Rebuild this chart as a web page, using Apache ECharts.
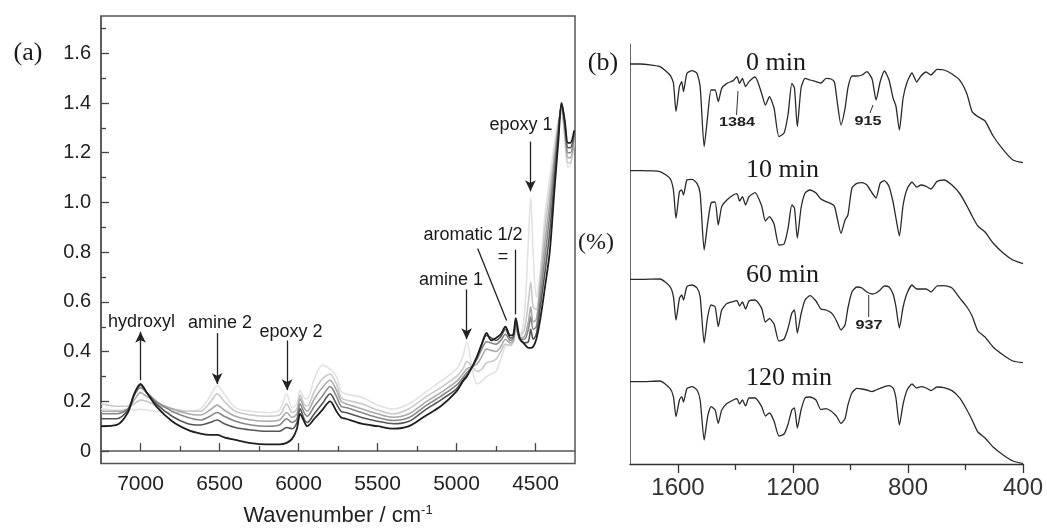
<!DOCTYPE html>
<html>
<head>
<meta charset="utf-8">
<script src="https://cdn.jsdelivr.net/npm/echarts@6/dist/echarts.min.js"></script>
<style>
  html, body { margin: 0; padding: 0; background: #fff; }
  #main { width: 1047px; height: 532px; }
</style>
</head>
<body>
<div id="main"></div>
<script>
// ---- panel (a): NIR spectra, wavenumber grid ----
var wnA = [7250,7150,7080,7040,7000,6960,6900,6800,6700,6620,6560,6515,6470,6400,6300,6200,6120,6075,6040,6010,
  5990,5965,5945,5900,5850,5800,5760,5730,5700,5600,5500,5400,5300,5200,5100,5000,4960,4935,4900,4870,
  4840,4810,4780,4750,4720,4690,4660,4640,4625,4600,4570,4545,4530,4515,4495,4470,4440,4410,4380,4355,
  4335,4315,4295,4280,4255];

// lightest (start of cure) -> darkest (end of cure)
var absA0 = [0.17,0.165,0.165,0.165,0.168,0.165,0.16,0.155,0.16,0.17,0.22,0.265,0.23,0.175,0.16,0.155,0.165,0.23,0.175,0.19,
  0.245,0.215,0.21,0.29,0.345,0.33,0.30,0.24,0.23,0.216,0.185,0.169,0.19,0.235,0.28,0.33,0.38,0.44,0.33,0.27,
  0.28,0.30,0.31,0.32,0.37,0.42,0.43,0.44,0.47,0.47,0.55,0.85,1.02,0.80,0.62,0.72,0.95,1.10,1.24,1.33,
  1.36,1.26,1.14,1.15,1.24];
var absA1 = [0.19,0.18,0.18,0.19,0.205,0.2,0.185,0.17,0.16,0.16,0.195,0.23,0.20,0.16,0.145,0.14,0.145,0.19,0.155,0.17,
  0.225,0.19,0.18,0.24,0.29,0.31,0.27,0.215,0.205,0.19,0.165,0.149,0.17,0.215,0.255,0.30,0.33,0.36,0.34,0.32,
  0.33,0.355,0.36,0.37,0.40,0.43,0.425,0.44,0.49,0.46,0.49,0.6,0.68,0.58,0.57,0.70,0.90,1.05,1.2,1.32,
  1.37,1.27,1.16,1.16,1.25];
var absA2 = [0.16,0.16,0.17,0.205,0.235,0.22,0.195,0.17,0.15,0.145,0.165,0.185,0.165,0.14,0.125,0.12,0.125,0.155,0.135,0.15,
  0.21,0.175,0.16,0.21,0.255,0.285,0.245,0.2,0.19,0.17,0.15,0.136,0.15,0.195,0.235,0.28,0.31,0.33,0.34,0.35,
  0.38,0.41,0.405,0.40,0.42,0.45,0.435,0.445,0.505,0.455,0.46,0.52,0.58,0.52,0.53,0.66,0.84,1.0,1.18,1.31,
  1.38,1.29,1.18,1.18,1.26];
var absA3 = [0.15,0.15,0.17,0.225,0.255,0.235,0.2,0.16,0.135,0.125,0.14,0.155,0.14,0.12,0.105,0.10,0.105,0.13,0.115,0.13,
  0.19,0.155,0.14,0.18,0.22,0.26,0.22,0.18,0.175,0.155,0.135,0.123,0.135,0.18,0.22,0.265,0.295,0.315,0.34,0.37,
  0.41,0.44,0.435,0.43,0.445,0.47,0.445,0.455,0.52,0.45,0.45,0.49,0.54,0.49,0.50,0.62,0.78,0.95,1.15,1.30,
  1.39,1.31,1.2,1.2,1.27];
var absA4 = [0.13,0.13,0.165,0.225,0.265,0.235,0.19,0.14,0.11,0.105,0.115,0.125,0.11,0.095,0.085,0.08,0.08,0.095,0.09,0.115,
  0.17,0.13,0.115,0.15,0.19,0.23,0.19,0.16,0.155,0.135,0.12,0.11,0.12,0.165,0.205,0.25,0.285,0.305,0.34,0.38,
  0.43,0.465,0.455,0.445,0.46,0.49,0.455,0.46,0.525,0.45,0.435,0.44,0.49,0.45,0.47,0.58,0.72,0.88,1.10,1.28,
  1.40,1.32,1.22,1.22,1.28];
var absA5 = [0.10,0.105,0.155,0.23,0.27,0.235,0.18,0.12,0.085,0.07,0.065,0.065,0.055,0.045,0.032,0.027,0.027,0.033,0.05,0.09,
  0.15,0.12,0.10,0.13,0.165,0.20,0.16,0.135,0.13,0.11,0.10,0.09,0.10,0.14,0.18,0.24,0.28,0.30,0.34,0.38,
  0.43,0.475,0.445,0.455,0.47,0.50,0.465,0.47,0.535,0.455,0.43,0.415,0.415,0.42,0.45,0.53,0.66,0.80,1.05,1.25,
  1.40,1.33,1.24,1.24,1.29];

var xTicksA = [4500,5000,5500,6000,6500,7000];
var xMinorA = [4750,5250,5750,6250,6750];
var yTicksA = [0,0.2,0.4,0.6,0.8,1.0,1.2,1.4,1.6];
var yMinorA = [0.1,0.3,0.5,0.7,0.9,1.1,1.3,1.5,1.7];

// ---- panel (b): mid-IR spectra (stacked, arbitrary %T units) ----
var wnB = [1767,1732,1663,1628,1616,1607,1595,1587,1581,1569,1551,1534,1523,1509,1497,1485,1471,1460,1448,1430,1408,
  1395,1386,1376,1365,1353,1332,1309,1296,1282,1266,1249,1231,1217,1204,1195,1185,1172,1158,1141,1120,
  1103,1085,1068,1056,1047,1033,1019,1009,995,978,960,943,925,911,897,882,866,852,842,830,
  817,803,786,770,755,737,720,699,675,647,619,595,577,557,532,504,469,435,400];
var t0min = [200,200,198.7,194.5,190.5,176.2,188.7,191.2,186.2,195.3,196.7,
  195.3,188.7,158.7,173.7,187,187,181.2,187.8,190.3,191.7,
  193.7,190.3,192.8,188.7,191.2,193.5,185.3,179.5,183.7,178,
  163.7,165.5,175,190.3,188,168.7,188,192.8,192,191.2,
  190.5,192.8,192.5,191,182,169.5,177.8,188,194,194,
  194.5,196.2,192.5,182,191,196.5,192,183,179,167,
  183,191,195.5,191,194,196,194.5,197.3,197,195,
  191.7,185,176.2,173.7,171.5,164,157.2,152,150.7];
var t10min = [146.7,146.7,146.2,142.8,137,122.8,136.2,137,134.5,142,142.3,
  140.3,135.3,107,120.3,130.5,131,119.5,128.7,132,134.5,
  135.2,131.5,133.7,129.5,133.7,135.7,129,121.5,123.7,120,
  109.5,110,118,129.5,128,113,128,135.5,137,135.5,
  132.5,131.2,130.2,129,123.5,115.3,122,124.5,138,140.3,
  140.7,139.5,135.5,133,140.3,141.7,138.8,131,123,114,
  129.5,137.5,141,138.5,139.5,138.8,137.5,141.3,142,139.5,
  135,129,124,119,116,110.5,105.5,102,100.2];
var t60min = [92.3,92.3,92.5,88.7,83.7,72,82.8,84.5,82,88.7,89.5,
  88,83.7,60.5,73.5,79.5,78.7,68.7,77,80.2,81.2,
  81.7,79,81,77.5,81.5,82,77.8,71,72.7,70,
  61.5,62.5,68,75.5,77,65.5,75,82,84.2,81.5,
  77.5,77,75.7,73.5,71,67,69.5,78,86,88.5,
  88,86,85,85.5,87,89,88.5,85,78.7,68,
  78.5,85.5,89.5,87.5,87.5,87.5,86,89,89.2,88,
  82.8,78.5,74,66.5,63.5,58.5,54.5,51.5,50.7];
var t120min = [41.2,41.2,41.5,37.8,33.7,23.7,32,33.7,31,37.7,38.7,
  37,32,12,23.7,28.7,27,20.3,27,30.2,32,
  32.7,30,32,29,33,33,28.7,24,25.5,21.5,
  14,15,20,27,28,18,27,33,33.5,32,
  27.2,27.7,26.5,25,23.5,20.3,22.8,29.5,35.5,37.8,
  37.5,37,36.2,37,37.8,38.7,39.2,38,33,19.5,
  30,37,40,38,38.7,38,36.7,38.5,38.2,36.7,
  32.8,27,22,16,13,8.5,4.5,1.5,0.2];

var xTicksB = [400,800,1200,1600];
var xMinorB = [600,1000,1400];

function pairs(xs, ys) {
  return xs.map(function (x, i) { return [x, ys[i]]; });
}

var greysA = ['#e2e2e2', '#c9c9c9', '#aaaaaa', '#878787', '#555555', '#1e1e1e'];
var setsA = [absA0, absA1, absA2, absA3, absA4, absA5];

var sans = 'Liberation Sans, Arial, sans-serif';
var serif = 'Liberation Serif, Times New Roman, serif';

var seriesList = [];
setsA.forEach(function (vals, k) {
  seriesList.push({
    type: 'line',
    xAxisIndex: 0,
    yAxisIndex: 0,
    data: pairs(wnA, vals),
    showSymbol: false,
    smooth: 0.3,
    silent: true,
    lineStyle: { color: greysA[k], width: k === 5 ? 1.8 : 1.6 },
    z: 2 + k
  });
});

// arrows + pointer lines in panel (a), placed in data coordinates
seriesList[5].markLine = {
  silent: true,
  animation: false,
  symbol: ['none', 'arrow'],
  symbolSize: [8, 11],
  label: { show: false },
  lineStyle: { color: '#222', width: 1.3, type: 'solid' },
  data: [
    [{ coord: [7000, 0.285] }, { coord: [7000, 0.48] }],
    [{ coord: [6515, 0.475] }, { coord: [6515, 0.27] }],
    [{ coord: [6072, 0.445] }, { coord: [6072, 0.245] }],
    [{ coord: [4936, 0.65] }, { coord: [4936, 0.45] }],
    [{ coord: [4532, 1.245] }, { coord: [4532, 1.045] }],
    [{ coord: [4866, 0.815], symbol: 'none' }, { coord: [4683, 0.525], symbol: 'none' }],
    [{ coord: [4626, 0.81], symbol: 'none' }, { coord: [4626, 0.55], symbol: 'none' }]
  ]
};

[t0min, t10min, t60min, t120min].forEach(function (vals) {
  seriesList.push({
    type: 'line',
    xAxisIndex: 2,
    yAxisIndex: 2,
    data: pairs(wnB, vals),
    showSymbol: false,
    smooth: 0.2,
    silent: true,
    lineStyle: { color: '#2a2a2a', width: 1.3 }
  });
});

function txt(x, y, s, font, align) {
  return {
    type: 'text', x: x, y: y, silent: true,
    style: { text: s, font: font, fill: '#1a1a1a', textAlign: align || 'center', textVerticalAlign: 'middle' }
  };
}
function peakNum(x, y, s) {
  return {
    type: 'text', x: x, y: y, scaleX: 1.35, silent: true,
    style: { text: s, font: 'bold 12px ' + sans, fill: '#222', textAlign: 'center', textVerticalAlign: 'middle' }
  };
}
function tick(x1, y1, x2, y2) {
  return { type: 'line', silent: true, shape: { x1: x1, y1: y1, x2: x2, y2: y2 }, style: { stroke: '#333', lineWidth: 1 } };
}
function plain(v) { return String(v); }

var option = {
  animation: false,
  backgroundColor: '#fff',
  grid: [
    { left: 101, top: 16, right: 472, bottom: 65, show: true, borderColor: '#555', borderWidth: 1.5, backgroundColor: 'transparent' },
    { left: 630, top: 44, right: 24, bottom: 68 }
  ],
  xAxis: [
    {
      gridIndex: 0, type: 'value', min: 4250, max: 7250, inverse: true, position: 'bottom',
      axisLine: { lineStyle: { color: '#555', width: 1.5 } },
      axisTick: { inside: true, length: 8, customValues: xTicksA, lineStyle: { color: '#444', width: 1.3 } },
      axisLabel: { customValues: xTicksA, formatter: plain, fontSize: 21, fontFamily: sans, color: '#222', margin: 10 },
      splitLine: { show: false },
      name: '{a|Wavenumber / cm}{s|-1}',
      nameLocation: 'middle',
      nameGap: 40,
      nameTextStyle: {
        rich: {
          a: { fontSize: 22, fontFamily: sans, color: '#222' },
          s: { fontSize: 13, fontFamily: sans, color: '#222', padding: [0, 0, 12, 0] }
        }
      }
    },
    {
      gridIndex: 0, type: 'value', min: 4250, max: 7250, inverse: true, position: 'bottom',
      axisLine: { show: false },
      axisTick: { inside: true, length: 5, customValues: xMinorA, lineStyle: { color: '#444', width: 1.3 } },
      axisLabel: { show: false },
      splitLine: { show: false }
    },
    {
      gridIndex: 1, type: 'value', min: 400, max: 1767, inverse: true, position: 'bottom',
      axisLine: { lineStyle: { color: '#333', width: 1.3 } },
      axisTick: { length: 9, customValues: xTicksB, lineStyle: { color: '#333', width: 1.3 } },
      axisLabel: { customValues: xTicksB, formatter: plain, fontSize: 24, fontFamily: sans, color: '#333', margin: 12 },
      splitLine: { show: false }
    },
    {
      gridIndex: 1, type: 'value', min: 400, max: 1767, inverse: true, position: 'bottom',
      axisLine: { show: false },
      axisTick: { length: 6, customValues: xMinorB, lineStyle: { color: '#333', width: 1.3 } },
      axisLabel: { show: false },
      splitLine: { show: false }
    }
  ],
  yAxis: [
    {
      gridIndex: 0, type: 'value', min: -0.05, max: 1.75, position: 'left',
      axisLine: { show: true, lineStyle: { color: '#555', width: 1.5 } },
      axisTick: { show: true, inside: true, length: 8, customValues: yTicksA, lineStyle: { color: '#444', width: 1.3 } },
      axisLabel: {
        customValues: yTicksA, fontSize: 20, fontFamily: sans, color: '#222', margin: 10,
        formatter: function (v) { return v === 0 ? '0' : v.toFixed(1); }
      },
      splitLine: { show: false }
    },
    {
      gridIndex: 0, type: 'value', min: -0.05, max: 1.75, position: 'left',
      axisLine: { show: false },
      axisTick: { show: true, inside: true, length: 5, customValues: yMinorA, lineStyle: { color: '#444', width: 1.3 } },
      axisLabel: { show: false },
      splitLine: { show: false }
    },
    {
      gridIndex: 1, type: 'value', min: 0, max: 210,
      axisLine: { show: true, lineStyle: { color: '#666', width: 1 } },
      axisTick: { show: false },
      axisLabel: { show: false },
      splitLine: { show: false }
    }
  ],
  series: seriesList,
  graphic: [
    txt(28, 53, '(a)', '26px ' + serif),
    txt(603, 63, '(b)', '26px ' + serif),
    txt(596, 243, '(%)', '24px ' + serif),
    txt(108, 322, 'hydroxyl', '18px ' + sans, 'left'),
    txt(220, 323, 'amine 2', '18px ' + sans),
    txt(291, 332, 'epoxy 2', '18px ' + sans),
    txt(451, 280, 'amine 1', '18px ' + sans),
    txt(473, 235, 'aromatic 1/2', '18px ' + sans),
    txt(503, 257, '=', '18px ' + sans),
    txt(521, 125, 'epoxy 1', '18px ' + sans),
    txt(746, 63, '0 min', '26px ' + serif, 'left'),
    txt(746, 170, '10 min', '26px ' + serif, 'left'),
    txt(746, 275, '60 min', '26px ' + serif, 'left'),
    txt(746, 378, '120 min', '26px ' + serif, 'left'),
    peakNum(737, 123, '1384'),
    peakNum(868, 122, '915'),
    peakNum(869, 326, '937'),
    tick(738, 91, 736.5, 115),
    tick(873, 105, 870, 113),
    tick(868.7, 295, 868.7, 317)
  ]
};

var chart = echarts.init(document.getElementById('main'));
chart.setOption(option);
</script>
</body>
</html>
